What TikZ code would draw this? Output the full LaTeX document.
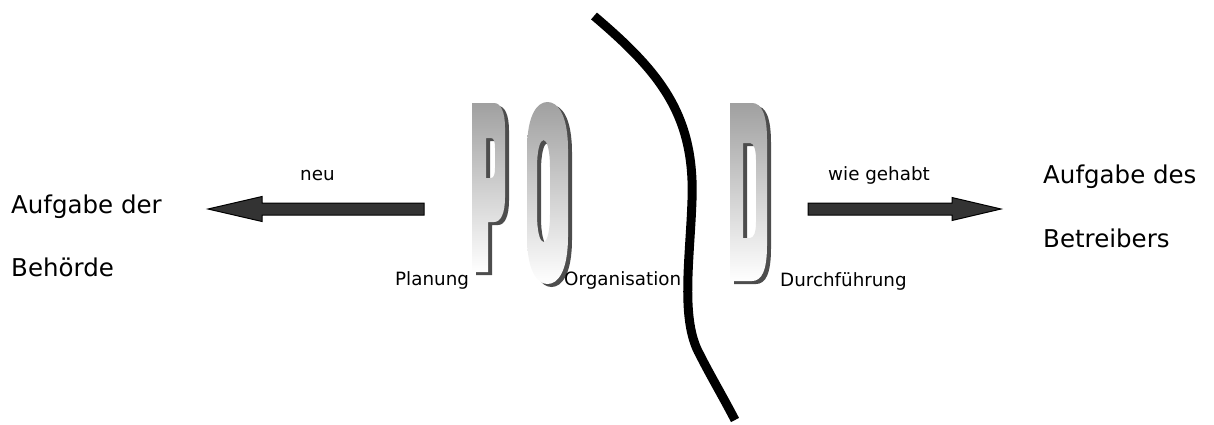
\documentclass[tikz,border=0pt]{standalone}
\usepackage{fontspec}
\setmainfont{DejaVu Sans}
\usetikzlibrary{calc}

\definecolor{shadowgray}{RGB}{77,77,77}
\definecolor{facetop}{RGB}{160,160,160}
\definecolor{arrowfill}{RGB}{51,51,51}

\tikzset{
  bigtext/.style={anchor=base west,inner sep=0pt,font=\fontsize{24.5}{28}\selectfont},
  smalltext/.style={anchor=base west,inner sep=0pt,font=\fontsize{18.3}{21}\selectfont},
  blockarrow/.style={draw=black,line width=1pt,fill=arrowfill,line join=miter},
  lettershadow/.style={fill=shadowgray,even odd rule},
  letterface/.style={top color=facetop,bottom color=white,even odd rule},
  divider/.style={line width=9pt,black}
}

% letter with its drop shadow
\newcommand\shadowletter[1]{%
  \fill[lettershadow,shift={(4,3)}] #1;
  \shade[letterface] #1;
}

\begin{document}
\begin{tikzpicture}[x=1pt,y=1pt,yscale=-1,xscale=1]
\useasboundingbox (0,0) rectangle (1214,424);

%Curve Lines: dividing line
\draw [divider] (594,16) .. controls (660,72) and (695,115) .. (692,200) .. controls (690,260) and (680,320) .. (700,355) .. controls (710,375) and (722,395) .. (735,420) ;

%Shape: letter P
\shadowletter{(472,103) -- (494,103) .. controls (501,103) and (505,112) .. (505,128) -- (505,197) .. controls (505,213) and (501,222) .. (494,222) -- (488,222) -- (488,272) -- (472,272) -- cycle
  (486,138) -- (491,138) .. controls (494,138) and (495,142) .. (495,148) -- (495,168) .. controls (495,174) and (494,178) .. (491,178) -- (486,178) -- cycle}
%Shape: letter O
\shadowletter{(527,150) .. controls (527,115) and (537,102) .. (547.5,102) .. controls (558,102) and (568,115) .. (568,150) -- (568,236) .. controls (568,271) and (558,284) .. (547.5,284) .. controls (537,284) and (527,271) .. (527,236) -- cycle
  (537,168) .. controls (537,150) and (540,140) .. (543.5,140) .. controls (547,140) and (550,150) .. (550,168) -- (550,214) .. controls (550,232) and (547,242) .. (543.5,242) .. controls (540,242) and (537,232) .. (537,214) -- cycle}
%Shape: letter D
\shadowletter{(730,103) -- (752,103) .. controls (762,103) and (767,115) .. (767,140) -- (767,245) .. controls (767,270) and (762,281) .. (752,281) -- (730,281) -- cycle
  (743,143) -- (750,143) .. controls (754,143) and (756,150) .. (756,160) -- (756,222) .. controls (756,232) and (754,238) .. (750,238) -- (743,238) -- cycle}

% Text Nodes
\node [bigtext] (aufgabeDer) at (11,213) {Aufgabe der};
\node [bigtext] (behoerde) at (11,276) {Behörde};
\node [bigtext] (aufgabeDes) at (1043,183) {Aufgabe des};
\node [bigtext] (betreiber) at (1043,247) {Betreibers};
\node [smalltext] (neu) at (300,180) {neu};
\node [smalltext] (wieGehabt) at (828,180) {wie gehabt};
\node [smalltext] (planung) at (395,285) {Planung};
\node [smalltext] (organisation) at (564,285) {Organisation};
\node [smalltext] (durchfuehrung) at (780,286) {Durchführung};

%Block Arrows
\coordinate (neuTail) at (424,209);
\coordinate (neuTip) at (208,209);
\coordinate (wieTail) at (808,209);
\coordinate (wieTip) at (1001,209);
\draw [blockarrow] ($(neuTail)+(0,-6)$) -- ($(neuTip)+(54,-6)$) -- ($(neuTip)+(54,-12.5)$) -- (neuTip) -- ($(neuTip)+(54,12.5)$) -- ($(neuTip)+(54,6)$) -- ($(neuTail)+(0,6)$) -- cycle ;
\draw [blockarrow] ($(wieTail)+(0,-6)$) -- ($(wieTip)+(-49,-6)$) -- ($(wieTip)+(-49,-11.5)$) -- (wieTip) -- ($(wieTip)+(-49,11.5)$) -- ($(wieTip)+(-49,6)$) -- ($(wieTail)+(0,6)$) -- cycle ;

\end{tikzpicture}
\end{document}
